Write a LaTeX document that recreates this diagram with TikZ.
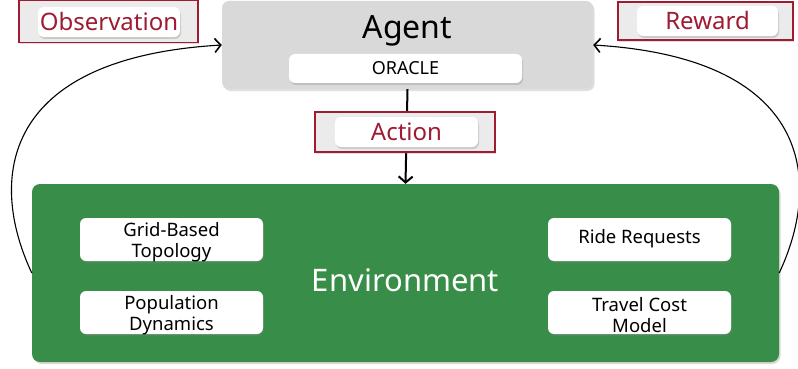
\documentclass[tikz,border=0pt]{standalone}
\usepackage{fontspec}
\setmainfont{Noto Sans}
\usetikzlibrary{arrows.meta,shadows}
\definecolor{envgreen}{HTML}{388E48}
\definecolor{agentgray}{HTML}{D9D9D9}
\definecolor{lblred}{HTML}{9E1B32}
\definecolor{lblgray}{HTML}{EBEBEB}
\tikzset{
  agentbox/.style={draw=none,fill=agentgray,rounded corners=7pt,minimum width=371pt,minimum height=88pt,
    drop shadow={shadow xshift=1.5pt,shadow yshift=-2pt,opacity=0.25}},
  envbox/.style={draw=none,fill=envgreen,rounded corners=8pt,minimum width=747pt,minimum height=178pt,
    drop shadow={shadow xshift=1.5pt,shadow yshift=-2pt,opacity=0.3}},
  pill/.style={fill=white,draw=none,rounded corners=6pt,align=center,
    drop shadow={shadow xshift=1pt,shadow yshift=-2pt,opacity=0.3}},
  subbox/.style={pill,minimum width=183pt,minimum height=43pt,inner sep=0pt},
  subtext/.style={align=center,inner sep=0pt,font=\fontsize{18.5}{21}\selectfont},
  lblouter/.style={draw=lblred,line width=1.6pt,fill=lblgray,
    drop shadow={shadow xshift=1pt,shadow yshift=-2pt,opacity=0.25}},
  lbltext/.style={pill,text=lblred,minimum height=30pt,font=\fontsize{24}{26}\selectfont,inner sep=0pt},
  flow/.style={draw=black,line width=1.1pt,-{Straight Barb[length=6pt,width=14pt,line width=1.6pt]}},
  mainflow/.style={draw=black,line width=2pt,-{Straight Barb[length=6pt,width=14pt,line width=2pt]}}
}
\begin{document}
\begin{tikzpicture}[x=1pt,y=-1pt]
\useasboundingbox (0,0) rectangle (798,369);
% agent
\node[agentbox] (agent) at (407.5,45) {};
\node[font=\fontsize{32}{34}\selectfont] (agenttxt) at (407.5,31) {Agent};
\node[pill,minimum width=233pt,minimum height=29pt,inner sep=0pt,font=\fontsize{18}{19}\selectfont] (oracle) at (405.5,68.5) {ORACLE};
% environment
\node[envbox] (env) at (405.5,273) {};
\node[text=white,font=\fontsize{31}{33}\selectfont] (envtxt) at (405.5,280) {Environment};
\node[subbox] (grid) at (171.5,239.5) {};
\node[subtext] (gridtxt) at ([yshift=-3pt]grid.center) {Grid-Based\\Topology};
\node[subbox] (pop) at (171.5,312.5) {};
\node[subtext] (poptxt) at ([yshift=-3pt]pop.center) {Population\\Dynamics};
\node[subbox] (ride) at (639.5,239.5) {};
\node[subtext] (ridetxt) at ([yshift=1pt]ride.center) {Ride Requests};
\node[subbox] (cost) at (639.5,312.5) {};
\node[subtext] (costtxt) at ([yshift=-3pt]cost.center) {Travel Cost\\Model};
% arrows
\draw[mainflow] (agent.south) -- (env.north);
\draw[flow] (env.west) .. controls (-12,180) and (0,58) .. (agent.west);
\draw[flow] (env.east) .. controls (823,180) and (811,58) .. (agent.east);
% labels
\node[lblouter,minimum width=180pt,minimum height=40pt] (actbox) at (405,132) {};
\node[lbltext,minimum width=143pt] (act) at (406.5,132) {Action};
\node[lblouter,minimum width=179pt,minimum height=42pt] (obsbox) at (108.5,21.5) {};
\node[lbltext,minimum width=142pt] (obs) at (109,22) {Observation};
\node[lblouter,minimum width=175pt,minimum height=38pt] (rewbox) at (705.5,21) {};
\node[lbltext,minimum width=141pt] (rew) at (707.5,21) {Reward};
\end{tikzpicture}
\end{document}
